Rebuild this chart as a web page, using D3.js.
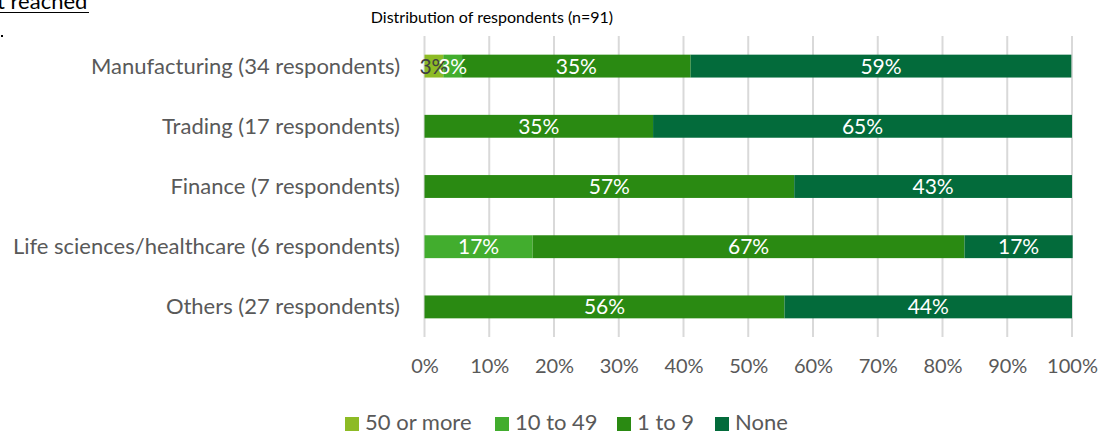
<!DOCTYPE html>
<html><head><meta charset="utf-8">
<script src="https://cdn.jsdelivr.net/npm/d3@7"></script>
<style>body{margin:0;background:#fff;}svg{display:block;}text{font-family:Lato,"Open Sans",sans-serif;}</style>
</head><body>
<svg id="c" width="1109" height="436"></svg>
<script>
const categories = ["Manufacturing (34 respondents)","Trading (17 respondents)","Finance (7 respondents)","Life sciences/healthcare (6 respondents)","Others (27 respondents)"];
const seriesNames = ["50 or more","10 to 49","1 to 9","None"];
const s50plus = [2.9, 0, 0, 0, 0];
const s10to49 = [2.9, 0, 0, 16.7, 0];
const s1to9 = [35.3, 35.3, 57.1, 66.7, 55.6];
const sNone = [58.8, 64.7, 42.9, 16.7, 44.4];
const tickValues = [0,10,20,30,40,50,60,70,80,90,100];
const colors = ["#8dbb25","#42ad2e","#2a8a12","#036b3b"];
const labelColors = ["#404040","#ffffff","#ffffff","#ffffff"];

const svg = d3.select("#c");
const x = d3.scaleLinear().domain([0,100]).range([424.5,1072]);
const y = d3.scaleBand().domain(categories).range([36,337]).paddingInner(0.62).paddingOuter(0.31);

svg.append("g").selectAll("line").data(tickValues).join("line")
  .attr("x1",d=>x(d)).attr("x2",d=>x(d)).attr("y1",36).attr("y2",337)
  .attr("stroke","#d9d9d9").attr("stroke-width",2);

const series = [s50plus,s10to49,s1to9,sNone];
const rows = categories.map((c,i)=>{const o={cat:c}; seriesNames.forEach((s,j)=>o[s]=series[j][i]); return o;});
const stacked = d3.stack().keys(seriesNames)(rows);

stacked.forEach((layer,j)=>{
  svg.append("g").selectAll("rect").data(layer.filter(d=>d[1]-d[0]>0)).join("rect")
    .attr("x",d=>x(d[0])).attr("width",d=>x(d[1])-x(d[0]))
    .attr("y",d=>y(d.data.cat)).attr("height",y.bandwidth())
    .attr("fill",colors[j]);
});
stacked.forEach((layer,j)=>{
  svg.append("g").selectAll("text").data(layer.filter(d=>d[1]-d[0]>0)).join("text")
    .attr("x",d=>(x(d[0])+x(d[1]))/2).attr("y",d=>y(d.data.cat)+y.bandwidth()/2+7.5)
    .attr("text-anchor","middle").attr("font-size",21).attr("fill",labelColors[j])
    .text(d=>Math.round(d[1]-d[0])+"%");
});

svg.append("g").selectAll("text").data(categories).join("text")
  .attr("x",400).attr("y",d=>y(d)+y.bandwidth()/2+7.5).attr("text-anchor","end")
  .attr("font-size",22).attr("fill","#595959").text(d=>d);

const xa = svg.append("g").attr("transform","translate(0,355)")
  .call(d3.axisBottom(x).tickValues(tickValues).tickFormat(d=>d+"%").tickSize(0).tickPadding(0));
xa.select(".domain").remove();
xa.selectAll("text").attr("font-size",20).attr("fill","#595959").attr("dy","0.9em").style("font-family","Lato,sans-serif");

svg.append("text").attr("x",492).attr("y",23).attr("text-anchor","middle").attr("font-size",16).attr("fill","#000").text("Distribution of respondents (n=91)");
svg.append("text").attr("x",-3).attr("y",9).attr("font-size",22).attr("fill","#000").text("t reached");
svg.append("line").attr("x1",0).attr("x2",89).attr("y1",12.5).attr("y2",12.5).attr("stroke","#000").attr("stroke-width",1);
svg.append("rect").attr("x",1).attr("y",35).attr("width",2).attr("height",2).attr("fill","#000");

const lx = [345,495,617,715];
const lg = svg.append("g").selectAll("g").data(seriesNames).join("g").attr("transform",(d,i)=>`translate(${lx[i]},413)`);
lg.append("rect").attr("width",14).attr("height",14).attr("y",4).attr("fill",(d,i)=>colors[i]);
lg.append("text").attr("x",20).attr("y",17).attr("font-size",22).attr("fill","#595959").text(d=>d);
</script>
</body></html>
